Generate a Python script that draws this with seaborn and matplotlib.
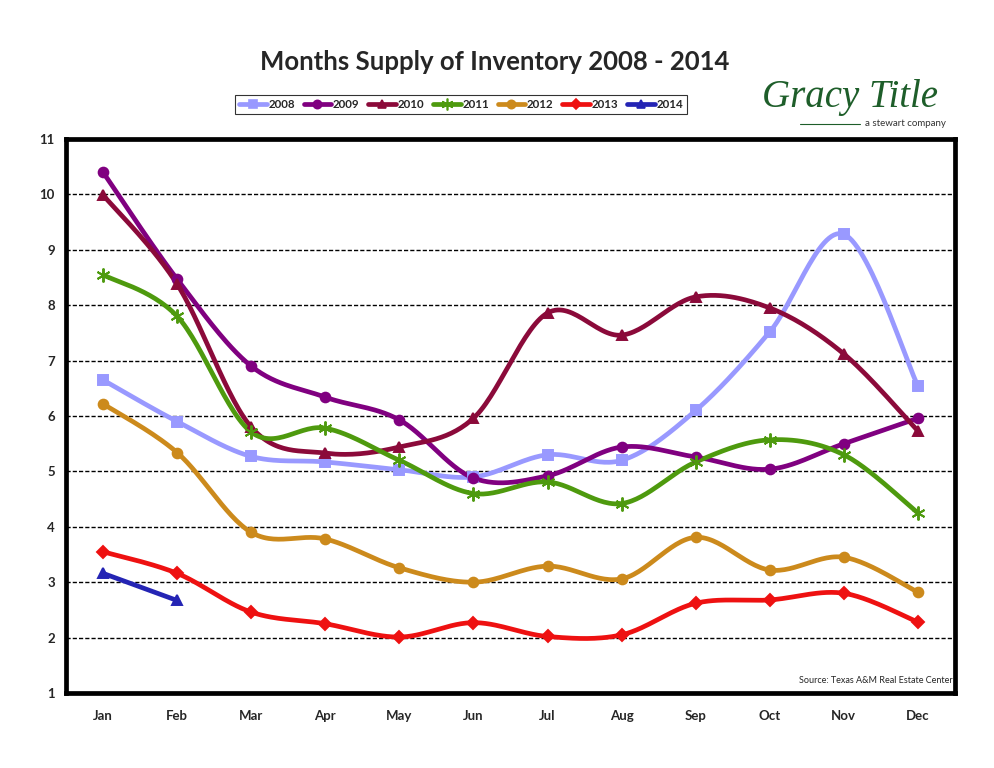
import numpy as np
import pandas as pd
import matplotlib
matplotlib.use("Agg")
import matplotlib.pyplot as plt
from matplotlib.lines import Line2D
import seaborn as sns

months = ["Jan", "Feb", "Mar", "Apr", "May", "Jun", "Jul", "Aug", "Sep", "Oct", "Nov", "Dec"]
years = ["2008", "2009", "2010", "2011", "2012", "2013", "2014"]

v2008 = [6.65, 5.90, 5.27, 5.17, 5.03, 4.90, 5.30, 5.20, 6.10, 7.52, 9.28, 6.54]
v2009 = [10.40, 8.47, 6.90, 6.34, 5.93, 4.88, 4.92, 5.44, 5.26, 5.04, 5.50, 5.96]
v2010 = [9.99, 8.38, 5.80, 5.33, 5.44, 5.96, 7.86, 7.46, 8.15, 7.95, 7.12, 5.73]
v2011 = [8.55, 7.80, 5.71, 5.78, 5.20, 4.60, 4.81, 4.42, 5.17, 5.57, 5.30, 4.25]
v2012 = [6.22, 5.34, 3.90, 3.78, 3.26, 3.00, 3.29, 3.06, 3.81, 3.22, 3.45, 2.82]
v2013 = [3.55, 3.16, 2.46, 2.25, 2.01, 2.27, 2.02, 2.05, 2.62, 2.68, 2.80, 2.28]
v2014 = [3.16, 2.67]

series = [v2008, v2009, v2010, v2011, v2012, v2013, v2014]
colors = ["#9999FF", "#800080", "#8B0A3A", "#4E9A0E", "#CC8A1C", "#EE1111", "#2424B4"]
markers = ["s", "o", "^", (6, 2, 0), "o", "D", "^"]
msizes = [7, 7, 7, 10, 7, 6, 7]


def smooth(y, n=30):
    p = np.array(y, dtype=float)
    x = np.arange(len(p), dtype=float)
    if len(p) < 3:
        return x, p
    xs, ys = [], []
    P = np.column_stack([x, p])
    for i in range(len(P) - 1):
        p0 = P[i - 1] if i > 0 else P[i]
        p1 = P[i]
        p2 = P[i + 1]
        p3 = P[i + 2] if i + 2 < len(P) else P[i + 1]
        b1 = p1 + (p2 - p0) / 6.0
        b2 = p2 - (p3 - p1) / 6.0
        t = np.linspace(0, 1, n, endpoint=(i == len(P) - 2))[:, None]
        c = ((1 - t) ** 3) * p1 + 3 * ((1 - t) ** 2) * t * b1 + 3 * (1 - t) * t ** 2 * b2 + t ** 3 * p2
        xs.append(c[:, 0])
        ys.append(c[:, 1])
    return np.concatenate(xs), np.concatenate(ys)


sns.set_theme(style="white")
plt.rcParams["font.family"] = ["Lato", "DejaVu Sans"]

fig = plt.figure(figsize=(9.94, 7.68), dpi=100)
ax = fig.add_axes([66 / 994, 1 - 693 / 768, (955 - 66) / 994, (693 - 139) / 768])

for yv in range(2, 11):
    ax.axhline(yv, color="black", lw=1.0, ls=(0, (3, 1.5)), zorder=1)

handles = []
for yr, vals, c, m, ms in zip(years, series, colors, markers, msizes):
    xs, ys = smooth(vals)
    df = pd.DataFrame({"x": xs, "y": ys})
    sns.lineplot(data=df, x="x", y="y", ax=ax, color=c, lw=3.4, sort=False,
                 estimator=None, zorder=3)
    ax.plot(np.arange(len(vals)), vals, ls="none", marker=m, color=c, ms=ms,
            mec=c, mew=1.4, zorder=4)
    handles.append(Line2D([], [], color=c, lw=3.4, marker=m, ms=ms * 0.85, mec=c, mew=1.2))

ax.set_xlim(-0.5, 11.5)
ax.set_ylim(1, 11)
ax.set_xlabel("")
ax.set_ylabel("")
ax.set_xticks(range(12))
ax.set_xticklabels(months, fontsize=9.5, fontweight="bold")
ax.set_xticks(np.arange(-0.5, 12, 1), minor=True)
ax.set_yticks(range(1, 12))
ax.set_yticklabels([str(i) for i in range(1, 12)], fontsize=9.5, fontweight="bold")
ax.tick_params(axis="x", which="major", length=0, pad=12)
ax.tick_params(axis="x", which="minor", length=5, width=1, color="black", direction="out")
ax.tick_params(axis="y", which="major", length=0, pad=8)
for s in ax.spines.values():
    s.set_visible(True)
    s.set_color("black")
    s.set_linewidth(3.4)

ax.text(0.997, 0.015, "Source: Texas A&M Real Estate Center", transform=ax.transAxes,
        ha="right", va="bottom", fontsize=6.5)

fig.text(495 / 994, 1 - 62 / 768, "Months Supply of Inventory 2008 - 2014",
         ha="center", va="center", fontsize=18.5, fontweight="bold")

leg = fig.legend(handles, years, loc="center", bbox_to_anchor=(461 / 994, 1 - 104.5 / 768),
                 ncol=7, frameon=True, handlelength=2.4, handletextpad=0.15,
                 columnspacing=0.75, borderpad=0.35, fancybox=False, edgecolor="black",
                 prop={"weight": "bold", "size": 8.3})
leg.get_frame().set_linewidth(0.8)

green = "#1E5E2A"
fig.text(850 / 994, 1 - 97 / 768, "Gracy Title", ha="center", va="center",
         fontsize=28, color=green, family=["Liberation Serif", "DejaVu Serif"], style="italic")
fig.add_artist(Line2D([800 / 994, 860 / 994], [1 - 124 / 768, 1 - 124 / 768],
                      color=green, lw=0.8))
fig.text(905 / 994, 1 - 123 / 768, "a stewart company", ha="center", va="center",
         fontsize=7, color="#333333")

fig.savefig("out.png", dpi=100, facecolor="white")
